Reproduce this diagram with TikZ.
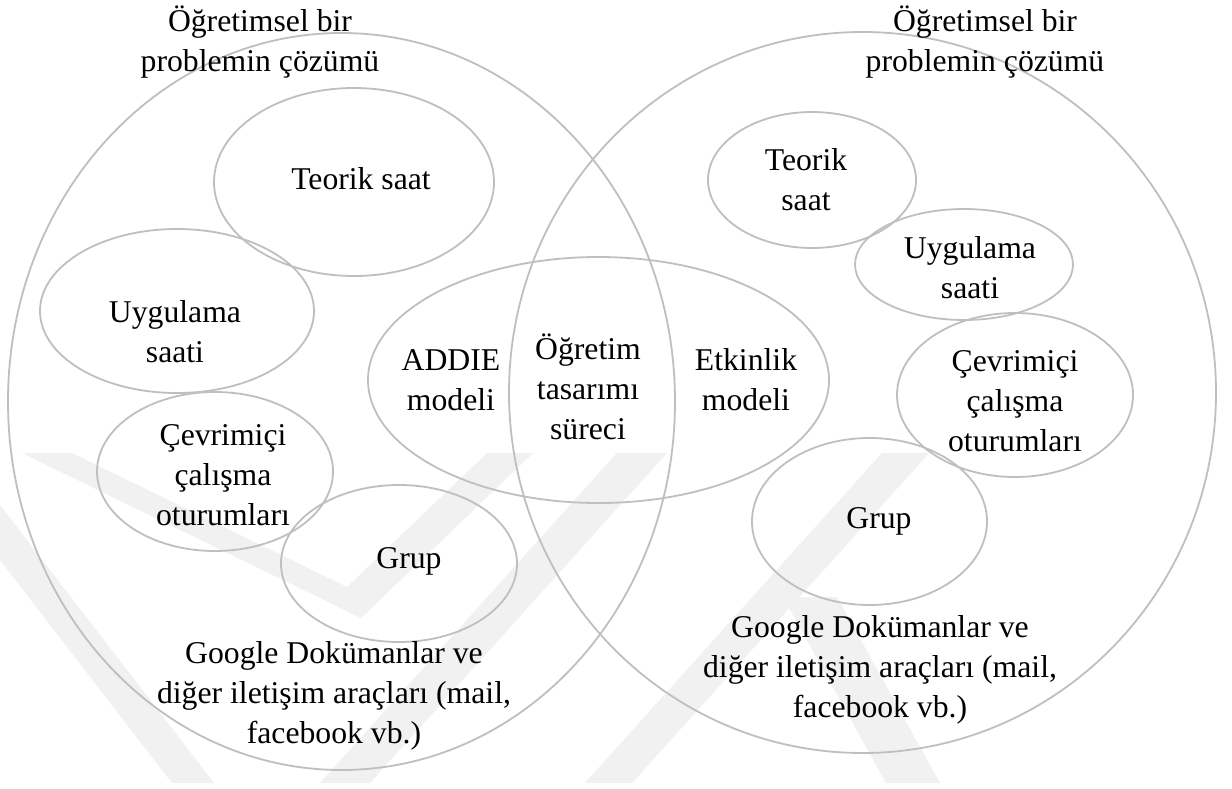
\documentclass[tikz,border=0pt]{standalone}
\usepackage{fontspec}
\setmainfont{Liberation Serif}
\definecolor{ringgray}{RGB}{191,191,191}
\definecolor{wmgray}{RGB}{241,241,241}
\newcommand\lblfont{\fontsize{31.7pt}{40pt}\selectfont}
\newcommand\mystrut{\rule[-12pt]{0pt}{40pt}}
\tikzset{
  ring/.style={draw=ringgray, line width=1.8pt},
  lbl/.style={align=center, inner sep=0pt, font=\lblfont, text=black},
  wm/.style={fill=wmgray, draw=none},
}
\begin{document}
\begin{tikzpicture}[x=1pt,y=-1pt]
\fill[white] (0,0) rectangle (1232,788);
\useasboundingbox (0,0) rectangle (1232,788);
% faint background watermark
\begin{scope}
\clip (0,453) rectangle (1232,783);
\fill[wm] (22,453) -- (72,453) -- (347,587) -- (487,453) -- (533,453) -- (361,618) -- cycle;
\fill[wm] (617,453) -- (667,453) -- (370,783) -- (320,783) -- cycle;
\fill[wm] (882,453) -- (929,453) -- (632,783) -- (585,783) -- cycle;
\fill[wm] (0,505) -- (214,783) -- (172,783) -- (0,560) -- cycle;
\fill[wm] (783,597) -- (837,597) -- (940,783) -- (886,783) -- cycle;
\end{scope}
% outer ellipses
\draw[ring] (341.5,401.5) ellipse [x radius=333.5pt, y radius=368.5pt];
\draw[ring] (862.5,392.5) ellipse [x radius=353.5pt, y radius=360.5pt];
% central ellipse
\draw[ring] (598.5,380) ellipse [x radius=230.5pt, y radius=123pt];
% left inner ellipses
\draw[ring] (354,182) ellipse [x radius=140pt, y radius=94pt];
\draw[ring] (177,311) ellipse [x radius=137pt, y radius=82pt];
\draw[ring] (215,471.5) ellipse [x radius=118pt, y radius=79.5pt];
\draw[ring] (399,563.5) ellipse [x radius=118pt, y radius=78.5pt];
% right inner ellipses
\draw[ring] (812,180) ellipse [x radius=104pt, y radius=68pt];
\draw[ring] (964,264.5) ellipse [x radius=109pt, y radius=55.5pt];
\draw[ring] (1015,395) ellipse [x radius=118pt, y radius=82pt];
\draw[ring] (869.5,521.5) ellipse [x radius=117.5pt, y radius=83.5pt];
% labels
\node[lbl] (titleL) at (260,43) {\mystrut Öğretimsel bir\\\mystrut problemin çözümü};
\node[lbl] (titleR) at (985,43) {\mystrut Öğretimsel bir\\\mystrut problemin çözümü};
\node[lbl] (teoL) at (361,181) {\mystrut Teorik saat};
\node[lbl] (uygL) at (175,334) {\mystrut Uygulama\\\mystrut saati};
\node[lbl] (cevL) at (223,477) {\mystrut Çevrimiçi\\\mystrut çalışma\\\mystrut oturumları};
\node[lbl] (grupL) at (409,560) {\mystrut Grup};
\node[lbl] (googL) at (334,695) {\mystrut Google Dokümanlar ve\\\mystrut diğer iletişim araçları (mail,\\\mystrut facebook vb.)};
\node[lbl] (addie) at (451,382) {\mystrut ADDIE\\\mystrut modeli};
\node[lbl] (ogr) at (588,391.5) {\mystrut Öğretim\\\mystrut tasarımı\\\mystrut süreci};
\node[lbl] (etk) at (746,382) {\mystrut Etkinlik\\\mystrut modeli};
\node[lbl] (teoR) at (806,182) {\mystrut Teorik\\\mystrut saat};
\node[lbl] (uygR) at (970,270) {\mystrut Uygulama\\\mystrut saati};
\node[lbl] (cevR) at (1015,403) {\mystrut Çevrimiçi\\\mystrut çalışma\\\mystrut oturumları};
\node[lbl] (grupR) at (879,520) {\mystrut Grup};
\node[lbl] (googR) at (880,669) {\mystrut Google Dokümanlar ve\\\mystrut diğer iletişim araçları (mail,\\\mystrut facebook vb.)};
\end{tikzpicture}
\end{document}
